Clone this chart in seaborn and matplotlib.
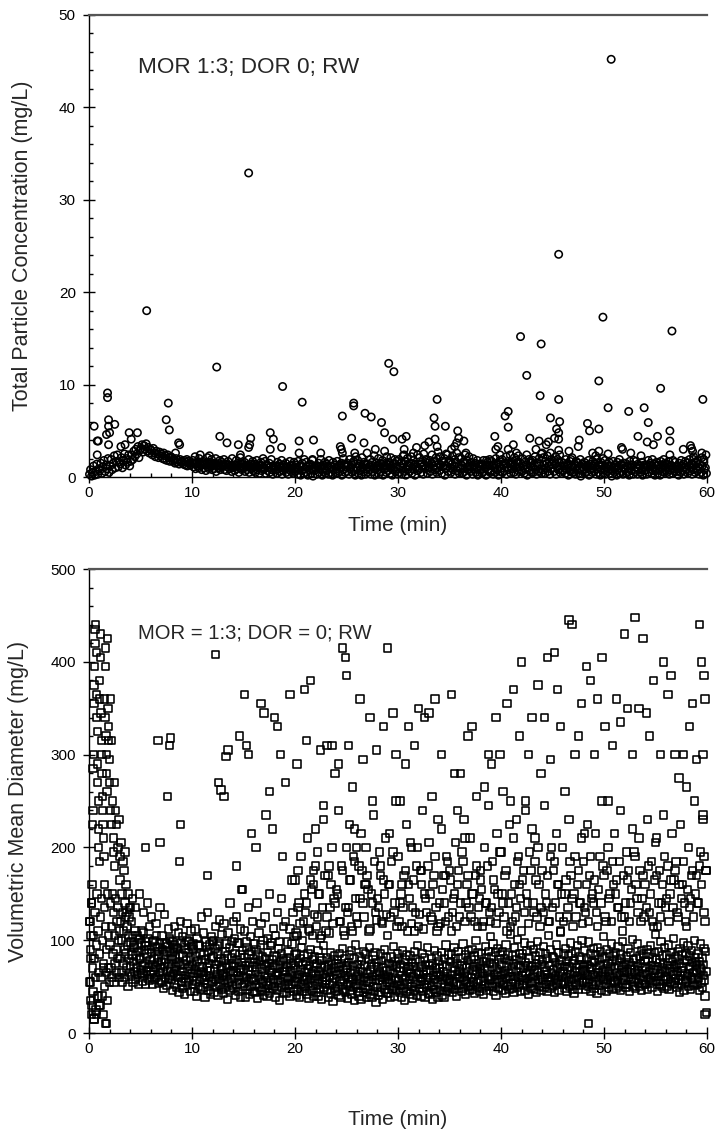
import numpy as np
import pandas as pd
import matplotlib
matplotlib.use("Agg")
import matplotlib.pyplot as plt
from matplotlib.ticker import MultipleLocator
import seaborn as sns

# ---------------- Top panel data: total particle concentration (mg/L) ----------------
# dense band, one reading every 0.1 min (rows = minutes 0..59)
top_band = [
    0.3,0.8,0.1,0.5,1.2,0.2,0.6,1.4,0.3,0.9,
    0.7,1.5,0.4,1.1,1.8,0.6,1.3,0.9,2.0,0.5,
    1.2,1.9,0.8,1.5,2.3,1.0,1.7,2.4,1.1,1.6,
    1.4,2.1,1.0,1.8,2.5,1.3,2.0,1.6,2.4,1.2,
    1.7,2.4,1.9,2.8,2.2,3.0,2.5,3.3,2.1,2.9,
    3.1,3.5,2.7,3.4,3.0,3.6,2.8,3.2,2.6,3.0,
    2.9,2.4,3.1,2.6,2.2,2.8,2.5,2.1,2.7,2.3,
    2.5,2.0,2.6,1.9,2.3,1.8,2.4,2.1,1.7,2.2,
    2.1,1.7,1.9,1.5,2.0,1.6,1.8,1.4,1.9,1.6,
    1.7,1.4,1.8,1.3,1.6,1.2,1.7,1.5,1.3,1.6,
    1.5,1.1,1.4,0.9,1.6,1.2,1.0,1.5,1.3,0.8,
    1.4,1.0,1.3,0.7,1.5,1.1,0.9,1.4,1.2,0.8,
    1.3,0.9,1.4,0.6,1.2,1.0,1.5,0.8,1.1,1.3,
    1.2,0.8,1.4,0.7,1.1,1.3,0.9,1.2,0.6,1.0,
    1.1,0.7,1.3,0.9,1.2,0.5,1.0,1.4,0.8,1.1,
    1.0,0.6,1.3,0.8,1.1,0.5,1.2,0.9,1.4,0.7,
    1.1,0.5,1.2,0.8,1.0,0.4,1.3,0.7,0.9,1.1,
    0.9,0.4,1.2,0.7,1.0,0.5,1.1,0.8,0.3,1.0,
    0.8,1.1,0.4,0.9,1.2,0.6,1.0,0.3,0.7,1.1,
    0.9,0.5,1.0,0.3,0.8,1.2,0.6,0.9,0.4,1.0,
    0.6,1.0,0.3,0.8,1.2,0.2,0.7,1.1,0.4,0.9,
    0.5,1.1,0.2,0.8,1.3,0.4,0.9,0.1,0.7,1.0,
    0.8,0.3,1.1,0.5,0.9,1.2,0.2,0.6,1.0,0.4,
    0.7,1.2,0.3,0.9,0.5,1.1,0.2,0.8,1.3,0.4,
    0.9,0.4,1.2,0.6,1.0,0.2,0.8,1.4,0.5,1.1,
    0.6,1.3,0.3,0.9,1.1,0.5,1.5,0.7,0.2,1.0,
    1.0,0.4,1.2,0.7,0.2,1.1,0.6,1.4,0.3,0.9,
    0.5,1.1,0.8,0.3,1.3,0.6,1.0,0.2,0.9,1.2,
    0.8,0.3,1.1,0.6,1.4,0.2,0.9,1.2,0.5,1.0,
    0.7,1.3,0.4,1.0,0.2,0.8,1.5,0.6,1.1,0.3,
    0.9,0.5,1.2,0.3,1.0,1.4,0.6,0.2,1.1,0.8,
    1.2,0.6,1.5,0.4,0.9,1.3,0.2,1.1,0.7,1.0,
    0.8,1.4,0.5,1.1,0.3,1.3,0.9,1.6,0.4,1.0,
    1.1,0.6,1.5,0.3,1.2,0.8,1.7,0.5,1.0,1.4,
    0.7,1.3,0.4,1.1,1.6,0.2,0.9,1.2,0.6,1.5,
    1.0,0.5,1.4,0.8,1.2,0.3,1.6,0.7,1.1,0.4,
    0.9,1.3,0.4,1.0,0.6,1.5,0.2,1.1,0.8,1.2,
    0.6,1.1,0.3,0.9,1.3,0.5,1.0,0.2,0.8,1.2,
    0.8,0.4,1.2,0.6,1.0,0.2,1.1,0.7,1.3,0.5,
    0.7,1.2,0.3,1.0,0.5,1.4,0.8,0.2,1.1,0.6,
    1.0,0.5,1.3,0.7,1.5,0.3,1.1,0.8,1.4,0.4,
    0.9,1.4,0.5,1.2,0.3,1.0,1.6,0.6,1.1,0.8,
    0.6,1.2,0.4,0.9,1.3,0.2,1.0,0.7,1.5,0.5,
    1.1,0.5,1.3,0.8,0.3,1.2,0.6,1.4,0.9,0.4,
    0.8,1.3,0.4,1.0,1.5,0.6,1.2,0.3,0.9,1.4,
    1.0,0.6,1.4,0.3,1.1,0.8,1.6,0.5,1.2,0.7,
    0.7,1.2,0.4,0.9,1.3,0.2,1.0,0.6,1.1,0.5,
    0.5,1.0,0.3,0.8,1.2,0.4,0.9,0.1,0.7,1.1,
    0.9,0.4,1.1,0.6,1.3,0.2,0.8,1.0,0.5,1.2,
    0.6,1.2,0.3,0.9,0.5,1.1,0.2,0.8,1.3,0.4,
    0.8,0.3,1.0,0.6,1.2,0.4,0.9,0.1,0.7,1.1,
    0.5,1.1,0.2,0.8,1.0,0.4,1.3,0.6,0.3,0.9,
    0.9,0.4,1.2,0.6,0.2,1.0,0.7,1.3,0.3,0.8,
    0.6,1.0,0.3,0.9,1.2,0.5,0.8,0.2,1.1,0.7,
    0.8,0.3,1.1,0.5,0.9,1.3,0.4,0.7,1.0,0.2,
    0.7,1.2,0.4,0.9,0.2,1.0,0.6,1.3,0.5,0.8,
    1.0,0.5,1.1,0.3,0.8,1.2,0.4,0.9,0.6,1.1,
    0.6,0.9,0.2,1.0,0.5,1.2,0.7,0.3,1.1,0.8,
    0.9,0.4,1.2,0.7,1.0,0.3,0.8,1.3,0.5,1.0,
    0.7,1.1,0.3,0.9,0.5,1.2,0.2,0.8,1.0,0.4,
]
# upper edge of the band, one reading every 0.2 min from minute 10
top_upper = [
    1.8,2.2,1.6,2.0,1.5, 1.7,1.4,2.1,1.6,1.9, 1.5,2.0,1.3,1.8,1.6, 1.9,1.4,1.7,1.2,2.0,
    1.3,1.8,1.5,2.1,1.4, 1.6,1.2,1.9,1.4,1.7, 1.4,1.8,1.2,1.6,2.0, 1.7,1.3,1.5,1.9,1.2,
    1.2,1.6,1.4,1.8,1.3, 1.5,1.1,1.7,1.3,1.6, 1.3,1.7,1.2,1.5,1.9, 1.6,1.2,1.4,1.8,1.1,
    1.2,1.5,1.9,1.3,1.6, 1.4,1.8,1.1,1.6,1.3, 1.7,1.3,1.5,2.0,1.4, 1.5,1.9,1.3,1.7,2.2,
    1.8,1.4,2.1,1.6,1.3, 1.4,1.9,1.6,2.3,1.5, 2.0,1.5,1.8,1.3,2.2, 1.6,2.1,1.4,1.9,1.7,
    1.9,1.5,2.3,1.7,2.0, 1.5,2.2,1.8,1.4,2.4, 2.1,1.6,2.5,1.9,1.5, 1.8,2.4,1.6,2.1,2.7,
    2.2,1.7,2.0,2.5,1.6, 1.7,2.3,1.9,2.6,2.1, 2.0,1.6,2.4,1.8,2.2, 1.6,2.0,1.5,1.8,1.4,
    1.4,1.8,1.3,1.6,1.9, 1.7,1.3,2.0,1.5,1.8, 1.9,1.5,2.2,1.7,2.4, 1.6,2.1,1.8,2.3,1.5,
    2.0,1.6,2.4,1.9,1.7, 1.8,2.2,1.5,2.0,2.5, 2.1,1.7,2.3,1.6,1.9, 1.7,2.2,1.9,2.4,1.6,
    1.5,1.9,1.4,1.7,2.1, 1.3,1.7,1.5,1.9,1.4, 1.6,1.2,1.8,1.4,1.7, 1.4,1.9,1.3,1.6,2.0,
    1.8,1.4,1.6,1.2,1.7, 1.3,1.6,1.9,1.4,1.5, 1.5,1.2,1.7,1.3,1.8, 1.7,1.4,1.2,1.6,1.3,
    1.3,1.8,1.5,1.9,1.4, 1.6,1.3,1.7,1.2,1.5, 1.4,1.7,1.3,1.8,1.6, 1.2,1.5,1.8,1.4,1.7,
    1.5,1.9,1.4,2.2,1.6, 1.8,1.4,2.1,1.6,2.4,
]
# isolated readings above the band: (time min, mg/L)
top_extra = [
    (0.5,5.5),(0.8,3.9),(0.9,3.9),(0.8,2.4),(1.8,9.1),(1.8,8.6),(1.9,6.2),(2.5,5.7),(1.9,5.5),
    (2.0,4.8),(1.7,4.6),(1.9,3.5),(3.1,3.3),(3.5,3.5),(3.9,4.8),(4.7,4.8),(4.1,4.1),(5.6,18.0),
    (7.5,6.2),(7.7,8.0),(7.8,5.1),(8.7,3.7),(8.8,3.5),(8.4,2.6),(9.5,1.9),(10.8,2.4),(11.7,2.3),
    (12.4,11.9),(12.7,4.4),(13.4,3.7),(14.5,3.5),(14.7,2.4),(15.5,3.2),(15.7,4.2),(15.6,3.5),
    (15.5,32.9),(17.6,4.8),(17.9,4.1),(17.6,3.0),(18.7,3.2),(18.8,9.8),(20.4,3.9),(20.4,2.6),
    (20.7,8.1),(21.8,4.0),(22.5,2.6),(21.7,1.9),(24.6,6.6),(24.4,3.3),(24.5,3.0),(24.6,2.6),
    (25.5,4.2),(25.7,8.0),(25.7,7.7),(25.8,2.6),(26.7,3.7),(26.8,6.9),(27.4,6.5),(27.0,2.6),
    (27.8,3.0),(28.4,5.9),(28.7,4.8),(28.7,2.8),(29.1,12.3),(29.6,11.4),(29.5,4.1),(30.4,4.1),
    (30.6,3.0),(30.6,2.4),(30.8,4.4),(31.5,2.6),(31.8,3.2),(32.6,3.4),(33.0,3.8),(33.5,6.4),
    (33.6,5.5),(33.6,4.1),(33.8,3.3),(33.8,8.4),(34.6,5.5),(34.8,2.4),(35.2,3.0),(35.5,3.3),
    (35.7,3.7),(35.8,5.0),(35.9,4.2),(36.4,3.9),(36.6,2.6),(38.6,1.8),(39.4,4.4),(39.5,3.0),
    (39.7,3.3),(39.9,2.4),(40.4,6.6),(40.7,7.1),(40.7,5.4),(40.7,3.0),(41.2,3.5),(41.5,2.6),
    (41.9,15.2),(42.5,11.0),(42.8,4.2),(43.4,3.0),(43.7,3.9),(43.8,8.8),(43.9,14.4),(44.0,2.6),
    (44.4,3.5),(44.6,3.8),(44.8,6.4),(44.8,2.6),(45.2,4.2),(45.4,5.2),(45.6,8.4),(45.6,4.1),
    (45.7,6.0),(45.6,4.8),(45.6,2.9),(45.6,24.1),(46.6,2.8),(46.8,1.9),(47.5,3.3),(47.6,4.0),
    (48.4,5.8),(48.6,5.0),(48.9,2.6),(49.5,5.2),(49.5,2.8),(49.2,2.3),(49.5,10.4),(49.9,17.3),
    (50.4,7.5),(50.4,2.5),(50.7,45.2),(51.7,3.2),(51.8,3.0),(52.4,7.1),(52.6,2.6),(53.3,4.4),
    (53.6,2.3),(53.9,7.5),(54.2,3.8),(54.3,5.9),(54.8,3.5),(55.2,4.4),(55.5,9.6),(55.8,1.9),
    (56.4,5.0),(56.4,3.9),(56.4,2.4),(56.6,15.8),(57.7,3.0),(58.4,3.4),(58.6,2.8),(58.5,3.1),
    (58.7,1.9),(59.5,2.6),(59.6,8.4),(59.7,1.9),
]

# ---------------- Bottom panel data: volumetric mean diameter ----------------
# dense band, one reading every 0.05 min (rows = minutes 0..59)
bot_band = [
    55,120,35,90,20,140,70,45,105,15,80,130,60,25,95,150,40,110,65,30,
    85,30,125,60,145,40,100,20,75,135,50,115,10,90,65,150,35,105,70,55,
    95,140,70,115,60,150,85,130,55,105,75,145,90,65,120,80,135,100,60,110,
    80,120,65,100,55,130,75,110,90,60,125,85,70,115,95,50,105,80,135,65,
    72,98,61,84,105,55,77,92,66,110,58,83,70,95,63,88,52,79,101,68,
    81,64,97,56,73,108,62,89,75,53,94,67,85,59,102,71,90,57,78,66,
    63,87,74,52,99,68,80,58,93,71,105,60,76,88,54,82,65,96,70,57,
    77,55,90,66,48,84,72,97,60,79,51,88,67,93,58,74,102,62,83,69,
    58,79,46,88,64,95,53,71,82,49,67,91,60,76,44,85,62,73,97,55,
    66,48,83,59,74,42,90,62,55,78,100,51,69,87,57,72,45,81,64,93,
    52,74,61,90,45,68,83,56,40,77,64,95,50,71,58,86,47,66,79,60,
    71,49,65,84,57,38,79,62,93,53,70,46,88,60,75,42,67,55,81,99,
    56,82,44,69,91,58,74,50,63,85,41,77,59,96,53,68,80,47,72,62,
    64,43,78,57,88,49,70,61,36,83,55,73,92,46,66,58,81,51,75,67,
    48,72,59,86,41,65,79,53,97,62,45,70,57,84,39,68,76,50,89,60,
    69,54,81,38,73,60,92,47,67,56,85,42,76,63,50,88,59,71,45,80,
    57,76,44,66,90,52,71,37,84,61,49,78,58,95,46,69,55,82,41,74,
    62,45,80,56,72,40,87,60,51,75,43,68,94,54,65,79,48,70,58,83,
    50,73,39,64,82,57,46,91,62,70,35,77,55,86,49,66,59,80,44,68,
    66,53,78,43,71,60,88,48,58,81,40,67,75,52,96,61,45,73,56,84,
    55,70,41,86,59,47,76,63,38,80,52,68,92,45,61,74,50,83,57,65,
    48,77,60,42,69,85,54,37,73,58,90,46,64,79,51,67,40,82,56,71,
    62,44,75,53,89,40,66,58,81,47,70,36,78,55,63,94,49,72,60,52,
    57,81,46,68,39,74,61,52,87,43,65,77,54,34,70,59,83,48,66,75,
    45,63,79,50,71,41,86,56,64,38,75,53,91,47,68,58,80,44,62,73,
    70,52,37,76,60,84,46,65,55,89,42,72,58,49,80,35,67,95,51,61,
    53,74,45,63,40,82,57,69,36,78,51,66,88,44,60,73,48,85,56,39,
    64,47,79,55,92,42,68,58,74,38,61,83,50,71,45,87,57,33,76,62,
    49,72,41,66,57,85,44,60,78,52,36,70,63,90,47,58,81,43,67,55,
    61,43,75,54,68,39,82,57,47,73,64,93,50,40,77,59,71,46,86,52,
    56,80,44,67,51,74,38,62,89,48,70,57,35,79,60,45,84,53,66,72,
    47,69,58,83,42,64,76,50,37,72,61,88,46,55,79,41,67,94,52,63,
    65,48,77,56,40,71,59,86,45,63,52,81,38,74,57,68,49,92,60,43,
    54,73,42,68,80,51,36,75,62,47,89,58,70,44,65,83,55,39,77,61,
    70,46,63,52,87,41,74,57,66,38,80,50,61,95,45,72,59,48,84,56,
    58,77,49,85,62,44,71,55,92,47,67,80,53,40,75,63,88,51,69,60,
    66,52,81,45,73,60,96,48,64,57,84,42,70,55,78,61,50,89,46,74,
    51,79,60,90,47,68,55,83,43,72,63,100,54,66,49,87,58,75,45,69,
    73,56,85,48,64,77,42,70,59,93,52,81,46,67,61,88,50,76,57,104,
    60,82,50,71,96,45,75,63,54,87,41,69,58,91,65,48,79,55,84,62,
    57,74,46,88,63,52,80,67,43,95,59,72,50,84,65,47,78,61,106,53,
    69,48,83,58,75,44,92,61,55,79,66,101,49,73,60,86,52,70,45,81,
    62,85,51,70,57,97,46,76,64,53,89,59,73,42,80,67,55,94,48,71,
    54,72,61,90,47,68,83,56,75,44,65,99,58,79,50,87,62,46,74,60,
    77,58,93,49,71,63,86,52,67,45,80,60,105,55,73,48,90,64,57,82,
    50,68,81,59,44,76,62,95,53,70,57,87,46,74,64,109,55,78,61,52,
    66,85,54,72,48,91,60,77,45,69,83,56,71,50,97,63,58,86,47,75,
    59,43,78,65,88,52,70,61,94,47,74,57,82,66,51,79,62,100,55,68,
    72,56,89,47,67,80,54,74,62,98,50,71,58,86,45,69,77,53,63,91,
    48,76,60,84,55,70,43,92,65,57,79,51,73,88,61,46,82,67,104,58,
    63,81,52,69,45,90,58,75,66,49,86,61,72,54,96,47,77,60,83,56,
    70,55,87,48,64,78,57,93,50,73,62,84,46,68,80,53,99,59,71,65,
    57,74,49,82,66,52,91,60,76,45,69,87,58,73,63,101,50,79,55,68,
    65,48,80,59,72,96,54,67,83,50,75,61,89,46,70,57,85,64,52,78,
    52,71,63,90,47,77,58,85,66,54,94,60,73,49,81,68,56,87,62,106,
    68,56,79,45,72,61,88,53,76,64,99,50,70,83,57,74,48,92,60,67,
    61,84,50,73,58,95,47,69,80,55,66,87,52,77,63,102,54,71,59,82,
    73,49,66,88,57,75,44,91,62,70,53,84,67,58,97,46,79,64,55,86,
    56,78,62,94,50,69,83,47,72,60,89,54,76,65,51,100,58,81,68,74,
    64,52,85,59,77,46,70,96,55,68,81,49,74,62,91,57,40,88,66,22,
]
# mid-range readings, one every 0.2 min from minute 4
bot_mid = [
    120,95,135,105,150, 110,130,98,140,115, 125,100,118,92,135, 105,128,96,112,100,
    98,115,92,108,120, 104,95,118,99,110, 96,112,102,94,125, 108,98,130,95,104,
    100,115,94,122,106, 118,96,108,140,99, 102,125,97,112,155, 110,98,135,104,120,
    96,140,108,118,100, 125,102,150,97,113, 105,130,99,145,115, 120,98,112,165,104,
    108,135,118,100,150, 140,112,165,105,128, 115,150,102,135,170, 125,108,160,118,140,
    150,120,180,110,135, 130,165,115,190,145, 118,145,175,125,160, 155,112,140,185,122,
    135,170,118,150,128, 160,125,195,140,115, 120,150,135,175,110, 145,118,165,130,200,
    128,160,112,145,180, 150,122,170,135,115, 118,155,140,190,125, 165,130,150,115,175,
    140,185,120,160,135, 125,150,170,115,145, 155,120,140,180,130, 135,165,118,150,195,
    150,125,175,140,115, 120,160,135,190,145, 165,130,150,118,175, 140,185,125,160,135,
    130,150,170,120,200, 175,140,160,125,150, 120,165,135,185,145, 150,125,175,140,118,
    135,160,120,190,150, 165,130,155,140,180, 125,175,145,120,160, 150,135,185,125,170,
    140,165,120,155,195, 160,130,175,145,125, 135,180,150,120,165, 170,140,125,160,190,
    145,120,165,135,175, 130,160,145,185,120, 155,135,170,125,150, 140,180,160,130,175,
]
# second set of mid-range readings, one every 0.2 min from minute 20
bot_mid2 = [
    165,105,140,190,120, 130,210,110,155,175, 180,125,150,105,230, 110,170,135,200,145,
    155,240,120,175,105, 200,135,165,110,185, 125,180,215,140,160, 170,110,150,235,130,
    145,195,120,165,210, 105,160,185,130,250, 190,140,115,170,225, 160,205,135,110,180,
    115,175,240,150,130, 205,125,160,190,110, 140,220,170,120,185, 175,110,145,205,160,
    125,195,230,140,170, 210,150,120,180,135, 165,115,200,140,245, 120,185,155,215,130,
    195,140,170,110,225, 150,210,125,185,160, 110,175,240,140,195, 220,130,165,200,115,
    175,245,140,120,190, 135,185,215,160,110, 200,150,125,230,170, 115,190,160,140,210,
    185,130,225,170,145, 140,215,115,190,250, 170,120,200,150,185, 215,165,135,240,110,
    125,195,175,140,220, 190,145,210,120,170, 160,230,130,185,115, 205,115,175,140,235,
    135,180,150,215,165, 185,125,225,160,140, 115,200,145,175,250, 170,140,195,230,120,
]
# scattered large-diameter readings: (time min, value)
bot_extra = [
    (0.1,120),(0.15,55),(0.2,105),(0.25,140),(0.3,160),(0.35,225),(0.4,240),(0.4,285),(0.45,300),
    (0.5,355),(0.5,375),(0.55,395),(0.6,420),(0.6,435),(0.65,440),(0.7,410),(0.7,365),(0.75,340),
    (0.8,325),(0.8,290),(0.85,270),(0.9,250),(0.9,220),(0.95,200),(1.0,185),(1.0,380),(1.05,360),
    (1.1,405),(1.1,430),(1.15,345),(1.2,315),(1.2,300),(1.25,280),(1.3,240),(1.3,255),(1.35,225),
    (1.4,210),(1.45,190),(1.5,160),(1.5,360),(1.55,340),(1.6,395),(1.6,415),(1.65,320),(1.7,300),
    (1.7,280),(1.75,260),(1.8,425),(1.85,350),(1.9,330),(1.9,315),(2.0,295),(2.0,270),(2.1,360),
    (2.1,240),(2.2,315),(2.2,225),(2.3,250),(2.35,210),(2.4,195),(2.5,270),(2.5,180),(2.6,240),
    (2.7,225),(2.8,200),(2.9,230),(3.0,190),(3.0,165),(3.1,205),(3.2,150),(3.3,185),(3.4,175),
    (3.5,195),(3.5,140),(3.6,160),(3.7,130),(3.8,150),(3.9,125),(4.0,135),(4.2,145),(0.3,30),
    (0.5,15),(0.7,20),(1.7,10),(0.2,80),(0.9,40),(1.4,70),(6.7,315),(7.9,318),(7.8,310),(7.6,255),
    (8.9,225),(8.8,185),(6.9,205),(5.5,200),(11.5,170),(12.3,408),(12.6,270),(12.8,262),(13.1,255),
    (13.3,298),(13.5,305),(14.0,120),(14.3,180),(14.6,320),(14.8,155),(15.1,365),(15.3,310),
    (15.5,300),(15.8,215),(16.2,200),(16.7,355),(17.0,345),(17.2,235),(17.5,260),(17.8,220),
    (18.0,340),(18.3,330),(18.6,300),(18.8,190),(19.1,270),(19.5,365),(19.8,130),(20.2,290),
    (20.3,175),(20.9,370),(21.1,315),(21.5,380),(21.8,160),(22.0,220),(22.2,195),(22.5,305),
    (22.8,245),(23.1,310),(23.3,180),(23.6,310),(23.9,280),(24.2,290),(24.6,415),(24.9,405),
    (25.0,385),(25.2,310),(25.3,225),(25.6,265),(25.8,220),(26.0,200),(26.3,360),(26.6,295),
    (26.9,200),(27.3,340),(27.5,250),(27.9,305),(28.3,180),(28.6,330),(29.0,415),(29.2,215),
    (29.5,345),(29.8,300),(30.2,250),(30.4,160),(30.7,290),(31.0,330),(31.3,200),(31.6,310),
    (32.0,350),(32.3,175),(32.6,340),(33.0,345),(33.3,255),(33.6,360),(33.9,230),(34.2,300),
    (34.6,170),(35.2,365),(35.5,280),(35.8,240),(36.1,280),(36.5,210),(36.8,320),(37.2,330),
    (37.6,255),(38.0,175),(38.4,265),(38.8,300),(39.1,290),(39.5,340),(39.9,300),(40.2,260),
    (40.6,355),(40.9,250),(41.2,370),(41.5,230),(41.8,320),(42.0,400),(42.4,250),(42.7,300),
    (43.0,340),(43.3,210),(43.6,375),(43.9,280),(44.2,340),(44.5,405),(44.8,295),(45.2,410),
    (45.5,370),(45.8,330),(46.2,260),(46.6,445),(46.9,440),(47.2,300),(47.5,320),(47.8,355),
    (48.1,215),(48.3,395),(48.7,380),(49.1,300),(49.4,360),(49.8,405),(50.1,330),(50.4,250),
    (50.8,310),(51.2,360),(51.6,335),(52.0,430),(52.3,350),(52.8,300),(53.0,448),(53.4,350),
    (53.8,425),(54.1,345),(54.4,320),(54.8,380),(55.1,210),(55.5,300),(55.8,400),(56.2,365),
    (56.5,385),(56.9,300),(57.3,275),(57.7,300),(58.0,265),(58.3,330),(58.6,355),(59.0,295),
    (59.3,440),(59.5,400),(59.7,385),(59.8,360),(59.6,300),(59.9,175),(59.7,190),(59.6,235),
    (48.5,10),(59.8,20),
]

top_label = "MOR 1:3; DOR 0; RW"
bot_label = "MOR = 1:3; DOR = 0; RW"

# ---------------- assemble frames ----------------
top_t = np.concatenate([np.arange(len(top_band)) * 0.1 + 0.05,
                        10 + np.arange(len(top_upper)) * 0.2 + 0.1,
                        [p[0] for p in top_extra]])
top_v = np.concatenate([top_band, top_upper, [p[1] for p in top_extra]])
df_top = pd.DataFrame({"Time": top_t, "Conc": top_v})

bot_t = np.concatenate([np.arange(len(bot_band)) * 0.05 + 0.025,
                        4 + np.arange(len(bot_mid)) * 0.2 + 0.1,
                        20 + np.arange(len(bot_mid2)) * 0.2,
                        [p[0] for p in bot_extra]])
bot_v = np.concatenate([bot_band, bot_mid, bot_mid2, [p[1] for p in bot_extra]])
df_bot = pd.DataFrame({"Time": bot_t, "Diam": bot_v})

# ---------------- plot ----------------
sns.set_style("ticks")
plt.rcParams["font.family"] = ["Liberation Sans", "DejaVu Sans"]

fig = plt.figure(figsize=(7.2, 11.41), dpi=100)
ax1 = fig.add_axes([0.1236, 0.5819, 0.8583, 0.4050])
ax2 = fig.add_axes([0.1236, 0.0946, 0.8583, 0.4067])

sns.scatterplot(data=df_top, x="Time", y="Conc", marker="o", s=28, ax=ax1, legend=False)
sns.scatterplot(data=df_bot, x="Time", y="Diam", marker="s", s=28, ax=ax2, legend=False)

for ax in (ax1, ax2):
    coll = ax.collections[-1]
    coll.set_facecolor("none")
    coll.set_edgecolor("black")
    coll.set_linewidth(1.15)
    coll.set_clip_on(False)

def style(ax, ymax, major, minor, ylabel, text, tx, ty, tsize, xlab_y, ylab_x):
    ax.set_xlim(0, 60)
    ax.set_ylim(0, ymax)
    ax.xaxis.set_major_locator(MultipleLocator(10))
    ax.xaxis.set_minor_locator(MultipleLocator(2))
    ax.yaxis.set_major_locator(MultipleLocator(major))
    ax.yaxis.set_minor_locator(MultipleLocator(minor))
    ax.tick_params(which="major", direction="inout", length=9, width=1, labelsize=11,
                   color="black", labelcolor="black")
    ax.tick_params(axis="x", which="major", pad=2)
    ax.tick_params(axis="y", which="major", pad=5)
    ax.tick_params(which="minor", direction="in", length=3, width=1, color="black")
    ax.spines["right"].set_visible(False)
    ax.spines["top"].set_color("#555555")
    ax.spines["top"].set_linewidth(1.6)
    for s in ("left", "bottom"):
        ax.spines[s].set_color("black")
        ax.spines[s].set_linewidth(1.0)
    ax.set_xlabel("Time (min)", fontsize=15)
    ax.set_ylabel(ylabel, fontsize=15.5)
    ax.xaxis.set_label_coords(0.5, xlab_y)
    ax.yaxis.set_label_coords(ylab_x, 0.5)
    ax.text(tx, ty, text, transform=ax.transAxes, fontsize=tsize, ha="left", va="center")
    ax.set_facecolor("white")

style(ax1, 50, 10, 2, "Total Particle Concentration (mg/L)", top_label,
      0.079, 0.887, 16.2, -0.085, -0.091)
style(ax2, 500, 100, 20, "Volumetric Mean Diameter (mg/L)", bot_label,
      0.079, 0.862, 14.6, -0.165, -0.097)

fig.savefig("out.png", dpi=100, facecolor="white")
